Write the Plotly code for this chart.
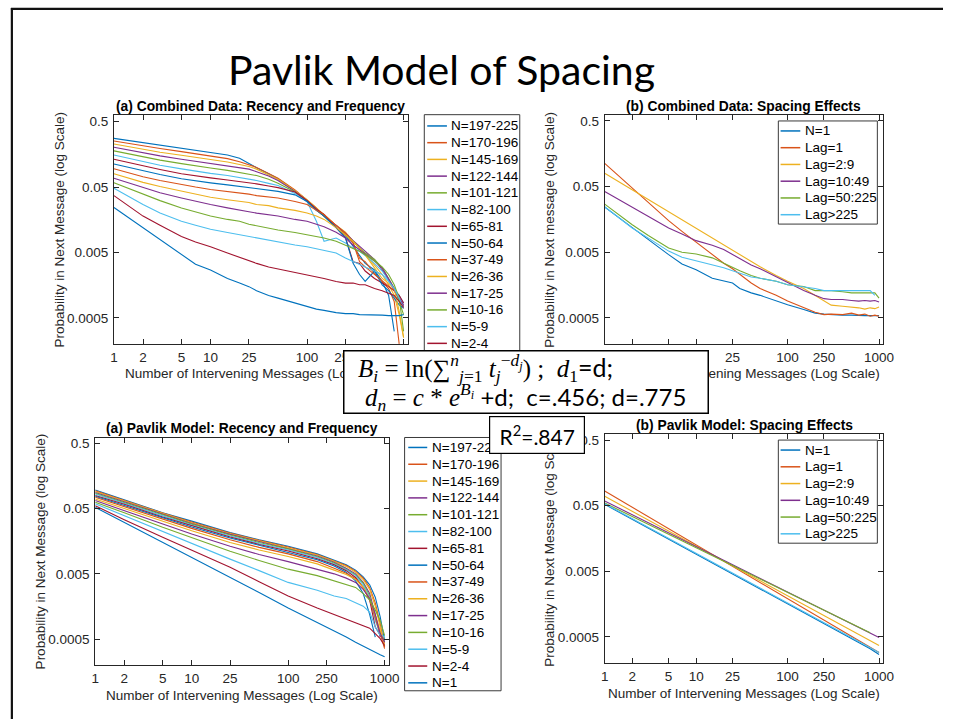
import plotly.graph_objects as go

W, H = 954, 719
def X(px): return px / W
def Y(py): return 1 - py / H

COLORS = ['#0072BD', '#D95319', '#EDB120', '#7E2F8E', '#77AC30', '#4DBEEE', '#A2142F']

N_GROUPS = ['N=197-225', 'N=170-196', 'N=145-169', 'N=122-144', 'N=101-121', 'N=82-100', 'N=65-81',
            'N=50-64', 'N=37-49', 'N=26-36', 'N=17-25', 'N=10-16', 'N=5-9', 'N=2-4', 'N=1']
LAG_GROUPS = ['N=1', 'Lag=1', 'Lag=2:9', 'Lag=10:49', 'Lag=50:225', 'Lag>225']

X_TICKS = [1, 2, 5, 10, 25, 100, 250, 1000]
Y_TICKS = [0.0005, 0.005, 0.05, 0.5]
Y_TICK_TEXT = ['0.0005', '0.005', '0.05', '0.5']

# ---------------- (a) Combined data: recency and frequency ----------------
DATA_RF_X = [1, 2, 3, 5, 7, 10, 15, 20, 25, 30, 40, 50, 75, 100, 125, 150, 200, 250, 300, 350, 400,
             500, 600, 700, 800, 900, 1000]
d_197 = [0.278, 0.239, 0.218, 0.198, 0.185, 0.172, 0.155, 0.138, 0.114, 0.099, 0.080, 0.067, 0.044, 0.031,
         0.023, 0.018, 0.012, 0.0091, 0.0062, 0.0046, 0.0034, 0.0027, 0.0018, 0.0011, 0.00031, None, None]
d_170 = [0.253, 0.212, 0.194, 0.174, 0.162, 0.152, 0.136, 0.122, 0.111, 0.100, 0.081, 0.068, 0.045, 0.032,
         0.024, 0.018, 0.013, 0.0095, 0.0070, 0.0041, 0.0036, 0.0024, 0.0018, 0.0014, 0.00089, 0.00020, None]
d_145 = [0.228, 0.189, 0.170, 0.153, 0.143, 0.133, 0.121, 0.111, 0.103, 0.094, 0.077, 0.066, 0.044, 0.032,
         0.024, 0.019, 0.013, 0.0102, 0.0074, 0.0058, 0.0046, 0.0032, 0.0023, 0.0016, 0.0011, 0.00056, 0.00025]
d_122 = [0.203, 0.166, 0.150, 0.133, 0.124, 0.116, 0.106, 0.099, 0.094, 0.086, 0.074, 0.063, 0.043, 0.031,
         0.023, 0.018, 0.013, 0.0099, 0.0076, 0.0062, 0.0052, 0.0039, 0.0027, 0.0019, 0.0013, 0.00095, 0.00075]
d_101 = [0.179, 0.144, 0.129, 0.114, 0.105, 0.098, 0.090, 0.084, 0.080, 0.075, 0.066, 0.057, 0.042, 0.030,
         0.022, 0.018, 0.012, 0.0091, 0.0074, 0.0058, 0.0049, 0.0039, 0.0029, 0.0020, 0.0014, 0.00089, 0.00056]
d_82 = [0.155, 0.122, 0.108, 0.095, 0.087, 0.081, 0.075, 0.070, 0.066, 0.063, 0.057, 0.053, 0.040, 0.030,
        0.015, 0.0074, 0.0083, 0.0070, 0.0058, 0.0052, 0.0045, 0.0034, 0.0026, 0.0019, 0.0014, 0.0011, 0.00084]
d_65 = [0.133, 0.105, 0.093, 0.080, 0.074, 0.069, 0.064, 0.061, 0.058, 0.056, 0.052, 0.049, 0.042, 0.031,
        0.023, 0.019, 0.012, 0.0085, 0.0036, 0.0034, 0.0026, 0.0020, 0.0017, 0.0015, 0.0013, 0.0011, 0.00084]
d_50 = [0.113, 0.088, 0.078, 0.067, 0.062, 0.058, 0.054, 0.051, 0.049, 0.047, 0.045, 0.043, 0.038, 0.030,
        0.022, 0.018, 0.012, 0.0083, 0.0034, 0.0023, 0.0018, 0.0026, 0.0016, 0.0013, 0.0010, 0.00079, 0.00070]
d_37 = [0.095, 0.072, 0.063, 0.054, 0.050, 0.046, 0.043, 0.040, 0.039, 0.037, 0.035, 0.034, 0.030, 0.027,
        0.022, 0.019, 0.013, 0.0099, 0.0070, 0.0036, 0.0030, 0.0023, 0.0018, 0.0015, 0.0013, 0.0010, 0.00070]
d_26 = [0.080, 0.059, 0.051, 0.043, 0.039, 0.035, 0.032, 0.030, 0.029, 0.027, 0.026, 0.024, 0.022, 0.020,
        0.018, 0.016, 0.012, 0.0093, 0.0074, 0.0058, 0.0046, 0.0029, 0.0020, 0.0017, 0.0014, 0.00063, 0.00025]
d_17 = [0.068, 0.049, 0.041, 0.034, 0.030, 0.027, 0.024, 0.022, 0.021, 0.020, 0.019, 0.018, 0.016, 0.015,
        0.0135, 0.0124, 0.0102, 0.0083, 0.0065, 0.0055, 0.0047, 0.0037, 0.0029, 0.0020, 0.0014, 0.0010, 0.00079]
d_10 = [0.058, 0.039, 0.031, 0.024, 0.021, 0.018, 0.016, 0.015, 0.0135, 0.0128, 0.012, 0.011, 0.0101, 0.0093,
        0.0088, 0.0083, 0.0074, 0.0065, 0.0058, 0.0052, 0.0046, 0.0037, 0.0030, 0.0023, 0.0016, 0.0010, 0.00031]
d_5 = [0.048, 0.027, 0.020, 0.015, 0.013, 0.0113, 0.0101, 0.0093, 0.0088, 0.0084, 0.0077, 0.0073, 0.0065,
       0.0061, 0.0057, 0.0054, 0.0049, 0.0041, 0.0036, 0.0033, 0.0030, 0.0026, 0.0023, 0.0018, 0.0014, 0.0010, 0.00070]
d_2 = [0.037, 0.018, 0.013, 0.0088, 0.0072, 0.0061, 0.0049, 0.0042, 0.0038, 0.0034, 0.0030, 0.0028, 0.0025,
       0.0023, 0.0021, 0.0020, 0.0018, 0.0017, 0.0017, 0.0016, 0.0016, 0.0014, 0.0013, 0.0012, 0.0011, 0.00089, 0.00072]
d_1 = [0.0244, 0.012, 0.0078, 0.0046, 0.0033, 0.0027, 0.0020, 0.0017, 0.0015, 0.0013, 0.0011, 0.0010, 0.00084,
       0.00075, 0.00068, 0.00065, 0.00060, 0.00058, 0.00058, 0.00056, 0.00056, 0.00055, 0.00055, 0.00054,
       0.00054, 0.00054, 0.00056]
DATA_RF = [d_197, d_170, d_145, d_122, d_101, d_82, d_65, d_50, d_37, d_26, d_17, d_10, d_5, d_2, d_1]

# ---------------- (b) Combined data: spacing effects ----------------
DATA_SP_X = [1, 2, 3, 5, 7, 10, 15, 20, 25, 30, 40, 50, 75, 100, 150, 200, 250, 300, 400, 500, 600, 700,
             800, 900, 1000]
s_n1 = [0.0243, 0.0118, 0.0076, 0.0046, 0.0033, 0.0027, 0.0020, 0.0018, 0.0017, 0.0014, 0.0012, 0.0011,
        0.00090, 0.00079, 0.00067, 0.00059, 0.00057, 0.00056, 0.00055, 0.00055, 0.00054, 0.00054, 0.00054,
        0.00054, 0.00054]
s_lag1 = [0.113, 0.047, 0.029, 0.0151, 0.0104, 0.0071, 0.0046, 0.0034, 0.0028, 0.0023, 0.0017, 0.0014, 0.0011,
          0.00090, 0.00071, 0.00061, 0.00056, 0.00057, 0.00056, 0.00059, 0.00055, 0.00057, 0.00053, 0.00055, 0.00053]
s_lag2_9 = [0.080, 0.0447, 0.0326, 0.0209, 0.0156, 0.0117, 0.0082, 0.0065, 0.0055, 0.0047, 0.0036, 0.0030,
            0.0022, 0.0018, 0.0014, 0.0011, 0.00090, 0.00078, 0.00075, 0.00073, 0.00071, 0.00068, 0.00071,
            0.00069, 0.00073]
s_lag10_49 = [0.042, 0.024, 0.0175, 0.0117, 0.0095, 0.0075, 0.0064, 0.0055, 0.0046, 0.0040, 0.0032, 0.0028,
              0.0021, 0.0017, 0.0013, 0.0011, 0.00098, 0.00095, 0.00095, 0.00092, 0.00090, 0.00092, 0.00090,
              0.00092, 0.00087]
s_lag50_225 = [0.027, 0.0131, 0.0090, 0.0058, 0.0050, 0.0047, 0.0041, 0.0034, 0.0029, 0.0026, 0.0022, 0.0020,
               0.0018, 0.0016, 0.0015, 0.0013, 0.0013, 0.0013, 0.00125, 0.0012, 0.0012, 0.0012, 0.0012, 0.0012,
               0.0010]
s_lag225 = [0.0246, 0.0117, 0.0082, 0.0052, 0.0042, 0.0037, 0.0032, 0.0029, 0.0026, 0.0024, 0.0021, 0.0020,
            0.0018, 0.0016, 0.0015, 0.0014, 0.0013, 0.0013, 0.0013, 0.0013, 0.0013, 0.0013, 0.0013, 0.0011, None]
DATA_SP = [s_n1, s_lag1, s_lag2_9, s_lag10_49, s_lag50_225, s_lag225]

# ---------------- (a) Pavlik model: recency and frequency ----------------
MODEL_RF_X = [1, 2, 5, 10, 25, 50, 100, 200, 300, 400, 500, 600, 700, 800, 900, 1000]
m_197 = [0.096, 0.068, 0.043, 0.032, 0.0215, 0.0166, 0.0132, 0.0101, 0.0081, 0.0069, 0.0057, 0.0045, 0.0034, 0.0022, 0.0011, 0.00048]
m_170 = [0.093, 0.066, 0.0424, 0.031, 0.021, 0.0163, 0.0129, 0.0099, 0.0080, 0.0067, 0.0055, 0.0043, 0.0031, 0.0018, 0.00086, 0.00038]
m_145 = [0.091, 0.065, 0.0415, 0.0302, 0.0205, 0.0159, 0.0126, 0.0097, 0.0078, 0.0065, 0.0053, 0.0041, 0.0029, 0.0016, 0.00077, 0.00040]
m_122 = [0.088, 0.063, 0.0405, 0.0295, 0.0201, 0.0156, 0.0123, 0.0094, 0.0075, 0.0061, 0.0050, 0.0037, 0.0025, 0.0012, 0.00054, None]
m_101 = [0.085, 0.062, 0.040, 0.0288, 0.0196, 0.0151, 0.0120, 0.0091, 0.0073, 0.0059, 0.0048, 0.0036, 0.0023, 0.0011, 0.00061, 0.00048]
m_82 = [0.083, 0.060, 0.0383, 0.0278, 0.0189, 0.0146, 0.0116, 0.0089, 0.0071, 0.0058, 0.0047, 0.0034, 0.0022, 0.00097, 0.00061, 0.00054]
m_65 = [0.079, 0.058, 0.037, 0.027, 0.0183, 0.0141, 0.0112, 0.0085, 0.0069, 0.0056, 0.0044, 0.0031, 0.0020, 0.00077, 0.00057, 0.00045]
m_50 = [0.077, 0.0555, 0.0357, 0.026, 0.0177, 0.0137, 0.0108, 0.0082, 0.0066, 0.0053, 0.0039, 0.0025, 0.0012, 0.00054, None, None]
m_37 = [0.074, 0.053, 0.034, 0.0248, 0.0166, 0.0127, 0.0101, 0.0077, 0.0061, 0.0051, 0.0042, 0.0031, 0.0020, 0.0011, 0.00061, 0.00036]
m_26 = [0.070, 0.050, 0.0317, 0.0228, 0.0151, 0.0116, 0.0092, 0.0071, 0.0057, 0.0049, 0.0041, 0.0031, 0.0021, 0.0012, 0.00068, 0.00040]
m_17 = [0.066, 0.0466, 0.0288, 0.0203, 0.0132, 0.0099, 0.0077, 0.0059, 0.0050, 0.0043, 0.0037, 0.0029, 0.0021, 0.0012, 0.00061, 0.00045]
m_10 = [0.062, 0.043, 0.0257, 0.0177, 0.0111, 0.0080, 0.0059, 0.0047, 0.0039, 0.0035, 0.0031, 0.0025, 0.0020, 0.0014, 0.00097, 0.00057]
m_5 = [0.059, 0.0387, 0.022, 0.0148, 0.0084, 0.0056, 0.0037, 0.0028, 0.0023, 0.0021, 0.0018, 0.0016, 0.0013, 0.00077, 0.00057, None]
m_2 = [0.055, 0.0336, 0.0181, 0.0116, 0.0063, 0.0038, 0.0023, 0.0015, 0.0012, 0.0010, 0.00089, 0.00080, 0.00074, 0.00061, 0.00051, 0.00040]
m_1 = [0.052, 0.0306, 0.0151, 0.0090, 0.0044, 0.0026, 0.0015, 0.00091, 0.00067, 0.00054, 0.00045, 0.00039, 0.00035, 0.00032, 0.00029, 0.00027]
MODEL_RF = [m_197, m_170, m_145, m_122, m_101, m_82, m_65, m_50, m_37, m_26, m_17, m_10, m_5, m_2, m_1]

# ---------------- (b) Pavlik model: spacing effects ----------------
MODEL_SP_X = [1, 2, 5, 10, 25, 50, 100, 250, 500, 800, 1000]
p_n1 = [0.0524, 0.0309, 0.0154, 0.0091, 0.0045, 0.0027, 0.00158, 0.00079, 0.00046, 0.00033, 0.00027]
p_lag1 = [0.0836, 0.0473, 0.0224, 0.0127, 0.0060, 0.0034, 0.0019, 0.00091, 0.00051, 0.00035, 0.00029]
p_lag2_9 = [0.0694, 0.0410, 0.0205, 0.0121, 0.0060, 0.0036, 0.0021, 0.00105, 0.00062, 0.00043, 0.00037]
p_lag10_49 = [0.0589, 0.0364, 0.0192, 0.0119, 0.0063, 0.0039, 0.0024, 0.00127, 0.00079, 0.00057, 0.00049]
p_lag50_225 = [0.0549, 0.0343, 0.0184, 0.0115, 0.0061, 0.0038, 0.0024, 0.00128, 0.00080, 0.00058, None]
p_lag225 = [0.0536, 0.0318, 0.0159, 0.0094, 0.0047, 0.0028, 0.00166, 0.00083, 0.00049, 0.00034, 0.00029]
MODEL_SP = [p_n1, p_lag1, p_lag2_9, p_lag10_49, p_lag50_225, p_lag225]

SP_COLORS = [COLORS[0], COLORS[1], COLORS[2], COLORS[3], COLORS[4], COLORS[5]]

TXT = '#262626'
SANS = 'Liberation Sans'

fig = go.Figure()

def add_lines(xs, series, names, colors, xa, ya):
    for s, n, c in zip(series, names, colors):
        fig.add_trace(go.Scatter(x=xs, y=s, name=n, mode='lines', xaxis=xa, yaxis=ya,
                                 line=dict(color=c, width=1.1), showlegend=False,
                                 connectgaps=False, hoverinfo='name+x+y'))

rf_colors = [COLORS[i % 7] for i in range(len(N_GROUPS))]
add_lines(DATA_RF_X, DATA_RF, N_GROUPS, rf_colors, 'x', 'y')
add_lines(DATA_SP_X, DATA_SP, LAG_GROUPS, SP_COLORS, 'x2', 'y2')
add_lines(MODEL_RF_X, MODEL_RF, N_GROUPS, rf_colors, 'x3', 'y3')
add_lines(MODEL_SP_X, MODEL_SP, LAG_GROUPS, SP_COLORS, 'x4', 'y4')

def xaxis(px0, px1, rng, anchor):
    return dict(domain=[X(px0), X(px1)], type='log', range=rng, anchor=anchor,
                tickmode='array', tickvals=X_TICKS, ticktext=[str(v) for v in X_TICKS],
                ticks='inside', ticklen=5, tickwidth=1, tickcolor=TXT,
                showline=True, linecolor=TXT, linewidth=1, mirror='ticks',
                showgrid=False, zeroline=False, ticklabelstandoff=1,
                tickfont=dict(family=SANS, size=13.5, color=TXT), fixedrange=True)

def yaxis(py0, py1, rng, anchor):
    return dict(domain=[Y(py1), Y(py0)], type='log', range=rng, anchor=anchor,
                tickmode='array', tickvals=Y_TICKS, ticktext=Y_TICK_TEXT,
                ticks='inside', ticklen=5, tickwidth=1, tickcolor=TXT,
                showline=True, linecolor=TXT, linewidth=1, mirror='ticks',
                showgrid=False, zeroline=False, ticklabelstandoff=2,
                tickfont=dict(family=SANS, size=13.5, color=TXT), fixedrange=True)

fig.update_layout(
    width=W, height=H, margin=dict(l=0, r=0, t=0, b=0),
    paper_bgcolor='white', plot_bgcolor='white', showlegend=False,
    xaxis=xaxis(111.7, 410, [0, 3.041], 'y'),
    yaxis=yaxis(113, 343, [-3.702, -0.194], 'x'),
    xaxis2=xaxis(610.3, 893.3, [0, 3.046], 'y2'),
    yaxis2=yaxis(113.7, 342.7, [-3.696, -0.216], 'x2'),
    xaxis3=xaxis(92.7, 391, [0, 3.044], 'y3'),
    yaxis3=yaxis(437.3, 665, [-3.697, -0.225], 'x3'),
    xaxis4=xaxis(610.3, 893.3, [0, 3.046], 'y4'),
    yaxis4=yaxis(433.7, 662.7, [-3.696, -0.216], 'x4'),
)

shapes = []
annotations = []

def ann(text, px, py, size=13.5, family=SANS, color=TXT, angle=0, xanchor='center', yanchor='middle', **kw):
    d = dict(text=text, x=X(px), y=Y(py), xref='paper', yref='paper', showarrow=False,
             font=dict(family=family, size=size, color=color), textangle=angle,
             xanchor=xanchor, yanchor=yanchor)
    d.update(kw)
    annotations.append(d)

# slide frame
shapes.append(dict(type='line', xref='paper', yref='paper', x0=X(7), x1=X(954), y0=Y(6.8), y1=Y(6.8),
                   line=dict(color='#111111', width=2.2)))
shapes.append(dict(type='line', xref='paper', yref='paper', x0=X(8), x1=X(8), y0=Y(6), y1=Y(719),
                   line=dict(color='#111111', width=2.2)))

# main title
ann('Pavlik Model of Spacing', 444, 68, size=41, family='Lato', color='#000000')

# subplot titles
ann('<b>(a) Combined Data: Recency and Frequency</b>', 261, 104.5, size=13.8, color='#000000')
ann('<b>(b) Combined Data: Spacing Effects</b>', 751.5, 104.5, size=13.8, color='#000000')
ann('<b>(a) Pavlik Model: Recency and Frequency</b>', 242, 427.5, size=13.8, color='#000000')
ann('<b>(b) Pavlik Model: Spacing Effects</b>', 752, 425, size=13.8, color='#000000')

# axis titles
XT = 'Number of Intervening Messages (Log Scale)'
ann(XT, 261, 373, size=13.5)
ann(XT, 751.5, 373, size=13.5)
ann(XT, 242, 695, size=13.5)
ann(XT, 752, 693, size=13.5)
ann('Probability in Next Message (log Scale)', 56, 228, size=13.5, angle=-90)
ann('Probability in Next message (log Scale)', 554, 228, size=13.5, angle=-90)
ann('Probability in Next Message (log Scale)', 37.5, 551, size=13.5, angle=-90)
ann('Probability in Next Message (log Scale)', 554, 548, size=13.5, angle=-90)

def legend(box, names, colors, y_first, step, lx0, lx1, tx):
    x0, y0, x1, y1 = box
    shapes.append(dict(type='rect', xref='paper', yref='paper', x0=X(x0), x1=X(x1), y0=Y(y1), y1=Y(y0),
                       line=dict(color='#3a3a3a', width=1), fillcolor='white', layer='above'))
    for i, (n, c) in enumerate(zip(names, colors)):
        yy = y_first + step * i
        shapes.append(dict(type='line', xref='paper', yref='paper', x0=X(lx0), x1=X(lx1), y0=Y(yy), y1=Y(yy),
                           line=dict(color=c, width=1.5), layer='above'))
        ann(n.replace('>', '&gt;'), tx, yy, size=13.5, color='#000000', xanchor='left')

legend((427, 113, 524, 370), N_GROUPS, rf_colors, 124.3, 16.77, 430, 450, 452)
legend((407, 436.7, 505, 690.7), N_GROUPS, rf_colors, 446.7, 16.86, 410.7, 430, 432.7)
legend((786.7, 119.3, 887.3, 222.7), LAG_GROUPS, SP_COLORS, 129.3, 16.8, 789, 809, 811.7)
legend((786.7, 439.3, 887.3, 542.7), LAG_GROUPS, SP_COLORS, 449.3, 16.8, 789, 809, 811.7)

# formula box (drawn over the legend / axis titles)
ann(' ', 530.5, 381.5, width=363, height=61, bgcolor='white', bordercolor='#000000', borderwidth=1.5,
    borderpad=0)
SERIF = 'Liberation Serif'
line1 = ("<i>B<sub>i</sub></i> = ln(∑<sup><i>n</i></sup><sub><i>j</i>=1</sub> "
         "<i>t<sub>j</sub></i><sup>−<i>d<sub>j</sub></i></sup>) ;  <i>d</i><sub>1</sub>"
         "<span style='font-family:Lato'>=d;</span>")
line2 = ("<i>d<sub>n</sub></i> = <i>c</i> * <i>e</i><sup><i>B<sub>i</sub></i></sup> "
         "<span style='font-family:Lato;font-size:24px'>+d;  c=.456; d=.775</span>")
ann(line1, 358, 367, size=25, family=SERIF, color='#000000', xanchor='left')
ann(line2, 365, 396, size=25, family=SERIF, color='#000000', xanchor='left')

# R^2 box
ann('R<sup>2</sup>=.847', 542, 434, size=21, family='Lato', color='#000000', width=94, height=36,
    bgcolor='white', bordercolor='#000000', borderwidth=1.2, borderpad=0)

fig.update_layout(shapes=shapes, annotations=annotations)
fig.write_html('out.html')
